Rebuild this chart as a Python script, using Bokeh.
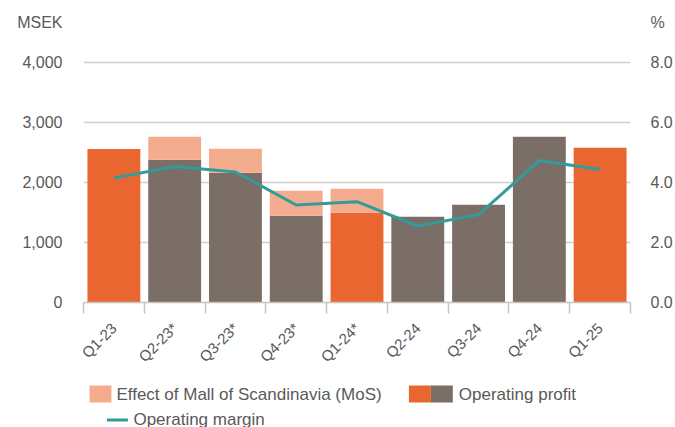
import math
from bokeh.plotting import figure
from bokeh.layouts import column
from bokeh.models import Range1d, LinearAxis, FixedTicker, NumeralTickFormatter
from bokeh.core.properties import value
from bokeh.embed import file_html
from bokeh.resources import INLINE

# ---- data ----
quarters = ["Q1-23", "Q2-23*", "Q3-23*", "Q4-23*", "Q1-24*", "Q2-24", "Q3-24", "Q4-24", "Q1-25"]
operating_profit = [2560, 2378, 2162, 1445, 1495, 1428, 1628, 2762, 2578]
mos_effect = [0, 384, 400, 417, 400, 0, 0, 0, 0]
operating_margin = [4.15, 4.53, 4.35, 3.25, 3.36, 2.55, 2.93, 4.73, 4.43]
left_ticks = [0, 1000, 2000, 3000, 4000]
right_ticks = [0, 2, 4, 6, 8]
legend_labels = ["Effect of Mall of Scandinavia (MoS)", "Operating profit", "Operating margin"]
left_title = "MSEK"
right_title = "%"

# ---- styles / geometry ----
FONT = "Liberation Sans"
TXT = "#595959"
ORANGE = "#EA6631"
GREY = "#7A6E66"
PINK = "#F4AC8E"
TEAL = "#339B9B"
GRID = "#D3CEC8"
AXIS = "#C9C4BE"
W = 675
MAIN_H, LEG_H = 375, 52
B_LEFT, B_RIGHT, B_TOP = 83, 44, 8
ZERO_Y = 302                      # pixel row of value 0
PX_PER_UNIT = 0.06                # pixels per MSEK
PCT_SCALE = 500                   # MSEK per percent (4000 <-> 8.0)
TITLE_ROW = 22                    # pixel row of the unit titles
N = len(quarters)

y_top = (ZERO_Y - B_TOP) / PX_PER_UNIT
title_val = (ZERO_Y - TITLE_ROW) / PX_PER_UNIT

xs = [i + 0.5 for i in range(N)]
colors = [ORANGE if q.startswith("Q1") else GREY for q in quarters]

p = figure(width=W, height=MAIN_H, x_range=Range1d(0, N), y_range=Range1d(0, y_top),
           toolbar_location=None, output_backend="svg",
           min_border_left=B_LEFT, min_border_right=B_RIGHT, min_border_top=B_TOP,
           min_border_bottom=MAIN_H - ZERO_Y, outline_line_color=None)
p.extra_y_ranges = {"pct": Range1d(0, y_top / PCT_SCALE)}

p.vbar(x=xs, width=0.87, top=operating_profit, bottom=0, fill_color=colors, line_color=None)
mos_x = [x for x, m in zip(xs, mos_effect) if m > 0]
mos_bottom = [o for o, m in zip(operating_profit, mos_effect) if m > 0]
mos_top = [o + m for o, m in zip(operating_profit, mos_effect) if m > 0]
p.vbar(x=mos_x, width=0.87, bottom=mos_bottom, top=mos_top, fill_color=PINK, line_color=None)
p.line(x=xs, y=operating_margin, y_range_name="pct", line_color=TEAL, line_width=3)

p.xgrid.visible = False
p.ygrid.ticker = FixedTicker(ticks=left_ticks[1:])
p.ygrid.grid_line_color = GRID
p.ygrid.grid_line_width = 1.5

ya = p.yaxis[0]
ya.ticker = FixedTicker(ticks=left_ticks + [title_val])
ya.formatter = NumeralTickFormatter(format="0,0")
ya.major_label_overrides = {title_val: left_title}
ya.axis_line_color = None
ya.major_tick_line_color = None
ya.minor_tick_line_color = None
ya.major_tick_out = 0
ya.major_tick_in = 0
ya.minor_tick_out = 0
ya.major_label_standoff = 21
ya.major_label_text_font = FONT
ya.major_label_text_font_size = "16px"
ya.major_label_text_color = TXT

pct_title_val = title_val / PCT_SCALE
ra = LinearAxis(y_range_name="pct", ticker=FixedTicker(ticks=right_ticks + [pct_title_val]),
                formatter=NumeralTickFormatter(format="0.0"))
ra.major_label_overrides = {pct_title_val: right_title}
ra.axis_line_color = None
ra.major_tick_line_color = None
ra.minor_tick_line_color = None
ra.major_tick_out = 0
ra.major_tick_in = 0
ra.minor_tick_out = 0
ra.major_label_standoff = 20
ra.major_label_text_font = FONT
ra.major_label_text_font_size = "16px"
ra.major_label_text_color = TXT
p.add_layout(ra, "right")

xa = p.xaxis[0]
xa.ticker = FixedTicker(ticks=xs, minor_ticks=list(range(N + 1)))
xa.major_label_overrides = {x: q for x, q in zip(xs, quarters)}
xa.major_label_orientation = math.pi / 4
xa.axis_line_color = AXIS
xa.axis_line_width = 1.5
xa.major_tick_line_color = None
xa.major_tick_out = 0
xa.major_tick_in = 0
xa.minor_tick_line_color = AXIS
xa.minor_tick_line_width = 1.5
xa.minor_tick_out = 11
xa.minor_tick_in = 0
xa.major_label_standoff = 12
xa.major_label_text_font = FONT
xa.major_label_text_font_size = "15px"
xa.major_label_text_color = TXT

# ---- legend (separate strip, pixel coordinates, y downward) ----
lg = figure(width=W, height=LEG_H, x_range=Range1d(B_LEFT, W - B_RIGHT),
            y_range=Range1d(LEG_H, 0), x_axis_type=None, y_axis_type=None,
            toolbar_location=None, output_backend="svg", outline_line_color=None,
            min_border_left=B_LEFT, min_border_right=B_RIGHT,
            min_border_top=0, min_border_bottom=0)
lg.grid.visible = False
lfont = value(FONT)
lg.quad(left=[89], right=[111], top=[10], bottom=[27], fill_color=PINK, line_color=None)
lg.text(x=[116], y=[19], text=[legend_labels[0]], text_font=lfont, text_font_size="17px",
        text_color=TXT, text_baseline="middle", text_align="left")
lg.quad(left=[409], right=[431], top=[10], bottom=[27], fill_color=ORANGE, line_color=None)
lg.quad(left=[431], right=[453], top=[10], bottom=[27], fill_color=GREY, line_color=None)
lg.text(x=[459], y=[19], text=[legend_labels[1]], text_font=lfont, text_font_size="17px",
        text_color=TXT, text_baseline="middle", text_align="left")
lg.line(x=[106.5, 127.5], y=[44.5, 44.5], line_color=TEAL, line_width=3)
lg.text(x=[133], y=[43.5], text=[legend_labels[2]], text_font=lfont, text_font_size="17px",
        text_color=TXT, text_baseline="middle", text_align="left")

layout = column(p, lg, spacing=0)
open("out.html", "w").write(file_html(layout, INLINE))
